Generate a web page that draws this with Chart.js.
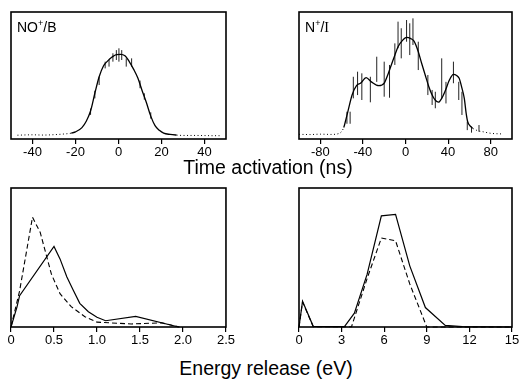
<!DOCTYPE html>
<html>
<head>
<meta charset="utf-8">
<script src="https://cdn.jsdelivr.net/npm/chart.js@4.4.1/dist/chart.umd.min.js"></script>
<style>
  html, body { margin: 0; padding: 0; background: #fff; overflow: hidden; }
  body { width: 521px; height: 379px; position: relative; font-family: "Liberation Sans", Arial, sans-serif; }
  canvas { position: absolute; }
  .axtitle { position: absolute; font-size: 19.5px; line-height: 20px; color: #000; white-space: nowrap; transform: translateX(-50%); }
  .plabel { position: absolute; font-size: 14px; line-height: 14px; color: #000; white-space: nowrap; }
  .plabel sup { font-size: 9px; vertical-align: 6px; line-height: 0; }
  .serif { font-family: "Liberation Serif", "DejaVu Serif", serif; }
</style>
</head>
<body>
<canvas id="tl"></canvas>
<canvas id="tr"></canvas>
<canvas id="bl"></canvas>
<canvas id="br"></canvas>
<div class="plabel" style="left:17px; top:20px;">NO<sup>+</sup>/B</div>
<div class="plabel" style="left:305px; top:20px;">N<sup>+</sup>/<span class="serif">I</span></div>
<div class="axtitle" style="left:268px; top:157px;">Time activation (ns)</div>
<div class="axtitle" style="left:266px; top:358px;">Energy release (eV)</div>
<script>
// ---- top left: NO+/B time-of-flight (fit curve) ----
var tlX = [-47, -40, -35, -30, -25, -22, -20, -17, -15, -13, -11, -9, -7, -5, -3, -1, 1, 3, 5, 7, 9, 11, 13, 15, 17, 19, 21, 24, 27, 30, 35, 40, 44, 48];
var tlY = [3.0, 3.3, 3.1, 3.4, 4.0, 4.6, 5.6, 9, 14, 22, 36, 49, 57.5, 61.5, 64.5, 66.5, 66.7, 65.5, 61, 55, 48, 38, 28.5, 18, 10.5, 6.8, 4.6, 3.6, 3.1, 2.8, 2.8, 2.7, 2.6, 2.6];
var tlErrX = [-13, -11, -9, -6.2, -4.4, -2.6, -1, 0.2, 1.5, 3.6, 6.1, 10, 12, 15];
var tlErrLo = [19, 32, 42.5, 55.6, 57, 60.9, 62.2, 60.9, 62.2, 57, 57, 40, 31, 16];
var tlErrHi = [24, 38, 49, 60.9, 62.2, 67.5, 70, 71.4, 70, 63.5, 63.5, 46, 36, 21];
var tlTicks = [-40, -20, 0, 20, 40];
var tlTickLbl = ['-40', '-20', '0', '20', '40'];

// ---- top right: N+/I ----
var trX = [-100, -90, -80, -70, -62, -58, -56.5, -54, -50, -46, -42, -37, -32, -25, -20, -16, -13, -10, -7, -3, 1, 5, 8, 12, 15, 18.5, 22, 25, 28, 31, 34, 37.6, 41, 45, 48, 50.4, 53, 55.2, 57, 58.4, 61, 63.2, 68, 72.8, 80, 90];
var trY = [3.7, 3.5, 3.8, 3.6, 4.5, 9, 13.6, 22, 35, 42, 44, 48.3, 45, 42, 44, 52, 59, 66, 72.7, 77.5, 80, 79, 77, 68.7, 60, 50.4, 41, 34.6, 30.5, 29, 32, 38.6, 46, 50.9, 50, 47.8, 40, 32, 20, 13.6, 10, 8.4, 6.5, 5.7, 4.5, 4];
var trErrX = [-55, -52, -49, -45, -41, -33, -27, -20, -15, -10, -7, -4, 1, 4, 7, 12, 21, 25, 28, 34, 38, 45, 50, 53, 58, 62, 69];
var trErrLo = [12, 12, 32, 34.6, 30.7, 28.9, 45, 33.3, 32.5, 58.3, 71.4, 63.5, 76.6, 66.1, 74, 54.3, 34.6, 26.8, 24.2, 32, 28, 43.9, 30.7, 18.9, 7, 5, 5.7];
var trErrHi = [21.5, 21.5, 49, 53, 51.7, 49, 64.8, 60.9, 58.3, 75.3, 92.4, 87.2, 93.7, 91.1, 95, 76.6, 50.4, 38.6, 37.2, 63.5, 45, 60.9, 45, 37.2, 13.6, 10, 11];
var trTicks = [-80, -40, 0, 40, 80];
var trTickLbl = ['-80', '-40', '0', '40', '80'];

// ---- bottom left: energy release, solid + dashed ----
var blX = [0, 0.07, 0.1, 0.5, 0.57, 0.65, 0.72, 0.8, 0.9, 1.0, 1.1, 1.45, 1.95];
var blY = [0, 14.5, 22.5, 58, 49, 36, 27, 17, 11, 7, 4.5, 7.6, 0];
var blDX = [0, 0.1, 0.25, 0.34, 0.47, 0.57, 0.7, 0.86, 1.0, 1.4, 1.75, 1.96];
var blDY = [0, 26, 79, 68, 38, 24, 14.6, 7.4, 3.5, 2.2, 3, 0];
var blTicks = [0, 0.5, 1, 1.5, 2, 2.5];
var blTickLbl = ['0', '0.5', '1.0', '1.5', '2.0', '2.5'];

// ---- bottom right ----
var brX = [0, 0.25, 1, 3.2, 3.9, 4.8, 5.8, 6.8, 7.8, 8.9, 10.3, 11.5, 15];
var brY = [0, 18.5, 0.5, 0.3, 10, 38, 80, 81, 44, 14, 1.2, 0.3, 0];
var brDX = [0, 0.25, 1, 3.7, 4.8, 5.8, 6.8, 7.8, 9, 15];
var brDY = [0, 18, 0.3, 0.2, 35, 64, 62, 31, 0, 0];
var brTicks = [0, 3, 6, 9, 12, 15];
var brTickLbl = ['0', '3', '6', '9', '12', '15'];

var PAD_L = 10, PAD_R = 10, PAD_T = 2, AXIS_H = 26;

function pts(xs, ys) {
  return xs.map(function (x, i) { return {x: x, y: ys[i]}; });
}

// vertical error bars as separated two point segments
function errPts(xs, lo, hi) {
  var d = [];
  for (var i = 0; i < xs.length; i++) {
    d.push({x: xs[i], y: lo[i]}, {x: xs[i], y: hi[i]}, {x: xs[i], y: null});
  }
  return d;
}

var boxPlugin = {
  id: 'box',
  afterDraw: function (chart) {
    var a = chart.chartArea, c = chart.ctx;
    c.save();
    c.strokeStyle = '#000';
    c.lineWidth = 1.6;
    c.strokeRect(a.left, a.top, a.right - a.left, a.bottom - a.top);
    c.restore();
  }
};

function makePanel(id, box, xMin, xMax, ticks, tickLbl, datasets) {
  var cv = document.getElementById(id);
  cv.width = box[1] - box[0] + PAD_L + PAD_R;
  cv.height = box[3] - box[2] + PAD_T + AXIS_H;
  cv.style.left = (box[0] - PAD_L) + 'px';
  cv.style.top = (box[2] - PAD_T) + 'px';
  return new Chart(cv, {
    type: 'line',
    data: {datasets: datasets},
    options: {
      responsive: false,
      animation: false,
      layout: {padding: {left: PAD_L, right: PAD_R, top: PAD_T, bottom: 0}},
      plugins: {legend: {display: false}, tooltip: {enabled: false}},
      elements: {point: {radius: 0}},
      scales: {
        x: {
          type: 'linear', min: xMin, max: xMax,
          afterBuildTicks: function (s) { s.ticks = ticks.map(function (v) { return {value: v}; }); },
          afterFit: function (s) { s.height = AXIS_H; },
          grid: {drawOnChartArea: false, drawTicks: true, tickLength: 5, color: '#000', lineWidth: 1.2},
          border: {display: false},
          ticks: {
            color: '#000', padding: 1, maxRotation: 0, autoSkip: false,
            font: {family: '"Liberation Sans", Arial, sans-serif', size: 13},
            callback: function (v, i) { return tickLbl[i]; }
          }
        },
        y: {display: false, min: 0, max: 100}
      }
    },
    plugins: [boxPlugin]
  });
}

function fitSet(xs, ys, dotLo, dotHi) {
  return {
    data: pts(xs, ys), borderColor: '#000', borderWidth: 1.3, cubicInterpolationMode: 'monotone', clip: false,
    segment: {
      borderDash: function (ctx) {
        return (ctx.p0.parsed.x < dotLo || ctx.p1.parsed.x > dotHi) ? [1, 2.5] : undefined;
      },
      borderWidth: function (ctx) {
        return (ctx.p0.parsed.x < dotLo || ctx.p1.parsed.x > dotHi) ? 1 : undefined;
      }
    }
  };
}

function errSet(xs, lo, hi) {
  return {data: errPts(xs, lo, hi), borderColor: '#222', borderWidth: 1, spanGaps: false, tension: 0};
}

function lineSet(xs, ys, dashed) {
  return {data: pts(xs, ys), borderColor: '#000', borderWidth: dashed ? 1.1 : 1.2, borderDash: dashed ? [5, 3] : [], tension: 0, clip: false};
}

makePanel('tl', [11, 226, 12, 139], -50, 50, tlTicks, tlTickLbl,
  [fitSet(tlX, tlY, -22, 27), errSet(tlErrX, tlErrLo, tlErrHi)]);
makePanel('tr', [299, 512, 12, 139], -100, 100, trTicks, trTickLbl,
  [fitSet(trX, trY, -61, 64), errSet(trErrX, trErrLo, trErrHi)]);
makePanel('bl', [11, 226, 188, 327], 0, 2.5, blTicks, blTickLbl,
  [lineSet(blX, blY, false), lineSet(blDX, blDY, true)]);
makePanel('br', [299, 512, 188, 327], 0, 15, brTicks, brTickLbl,
  [lineSet(brX, brY, false), lineSet(brDX, brDY, true)]);
</script>
</body>
</html>
